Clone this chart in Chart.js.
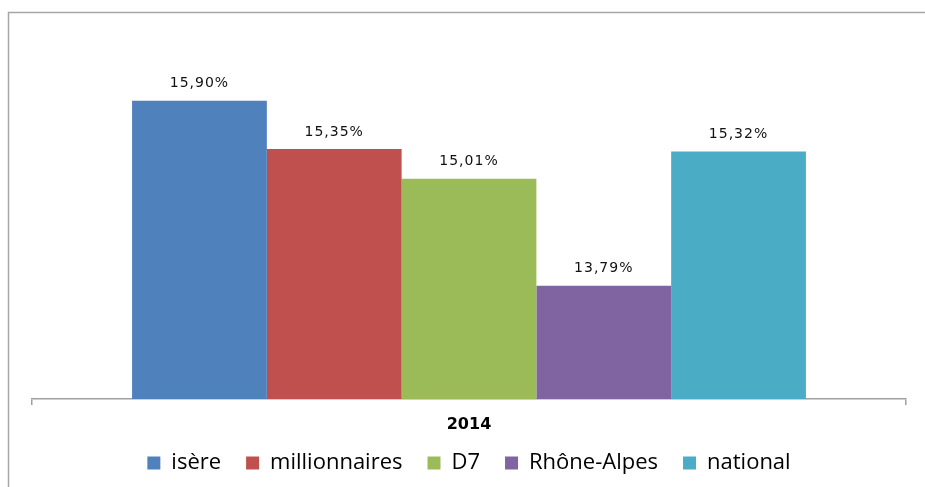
<!DOCTYPE html>
<html>
<head>
<meta charset="utf-8">
<script src="https://cdn.jsdelivr.net/npm/chart.js@4/dist/chart.umd.min.js"></script>
<style>
  html, body { margin: 0; padding: 0; background: #fff; }
  #wrap { width: 925px; height: 487px; position: relative; }
</style>
</head>
<body>
<div id="wrap"><canvas id="c" width="925" height="487"></canvas></div>
<script>
// donnees
var categories = ['2014'];
var seriesNames = ['isère', 'millionnaires', 'D7', 'Rhône-Alpes', 'national'];
var seriesValues = [15.90, 15.35, 15.01, 13.79, 15.32];
var seriesColors = ['#4F81BD', '#C0504D', '#9BBB59', '#8064A2', '#4BACC6'];

function fmt(v) { return v.toFixed(2).replace('.', ',') + '%'; }

// cadre gris en haut et a gauche
var framePlugin = {
  id: 'frame',
  beforeDraw: function(chart) {
    var ctx = chart.ctx;
    ctx.save();
    ctx.fillStyle = '#fff';
    ctx.fillRect(0, 0, chart.width, chart.height);
    ctx.strokeStyle = '#a6a6a6';
    ctx.lineWidth = 1.5;
    ctx.beginPath();
    ctx.moveTo(8.5, chart.height);
    ctx.lineTo(8.5, 12.5);
    ctx.lineTo(chart.width, 12.5);
    ctx.stroke();
    ctx.restore();
  },
  // remonte la legende (sa hauteur est limitee par maxHeight)
  afterLayout: function(chart) {
    if (chart.legend) chart.legend.top -= 11;
  }
};

// etiquettes de valeur au-dessus des barres
var valueLabels = {
  id: 'valueLabels',
  afterDatasetsDraw: function(chart) {
    var ctx = chart.ctx;
    ctx.save();
    ctx.font = '14px "DejaVu Sans"';
    if ('letterSpacing' in ctx) ctx.letterSpacing = '1px';
    ctx.fillStyle = '#111';
    ctx.textAlign = 'center';
    ctx.textBaseline = 'middle';
    chart.data.datasets.forEach(function(ds, i) {
      var meta = chart.getDatasetMeta(i);
      meta.data.forEach(function(bar, j) {
        ctx.fillText(fmt(ds.data[j]), bar.x, bar.y - 17);
      });
    });
    ctx.restore();
  }
};

var datasets = seriesNames.map(function(name, i) {
  return {
    label: name,
    data: [seriesValues[i]],
    backgroundColor: seriesColors[i],
    borderWidth: 0,
    categoryPercentage: 0.771,
    barPercentage: 1.0
  };
});

new Chart(document.getElementById('c'), {
  type: 'bar',
  data: { labels: categories, datasets: datasets },
  options: {
    responsive: false,
    animation: false,
    layout: { padding: { top: 48, left: 32, right: 19, bottom: 0 } },
    plugins: {
      tooltip: { enabled: false },
      legend: {
        position: 'bottom',
        maxHeight: 49,
        labels: {
          boxWidth: 13,
          boxHeight: 13,
          padding: 25,
          color: '#000',
          font: { family: '"Open Sans"', size: 22 }
        }
      }
    },
    scales: {
      x: {
        grid: { drawOnChartArea: false, drawTicks: true, tickLength: 6, color: '#a0a0a0', lineWidth: 1.5 },
        border: { display: true, color: '#a0a0a0', width: 1.5 },
        ticks: { color: '#000', padding: 10, font: { family: '"DejaVu Sans"', size: 16, weight: 'bold' } },
        afterFit: function(scale) { scale.height = 39; }
      },
      y: {
        display: false,
        min: 12.5,
        max: 16.5
      }
    }
  },
  plugins: [framePlugin, valueLabels]
});
</script>
</body>
</html>
